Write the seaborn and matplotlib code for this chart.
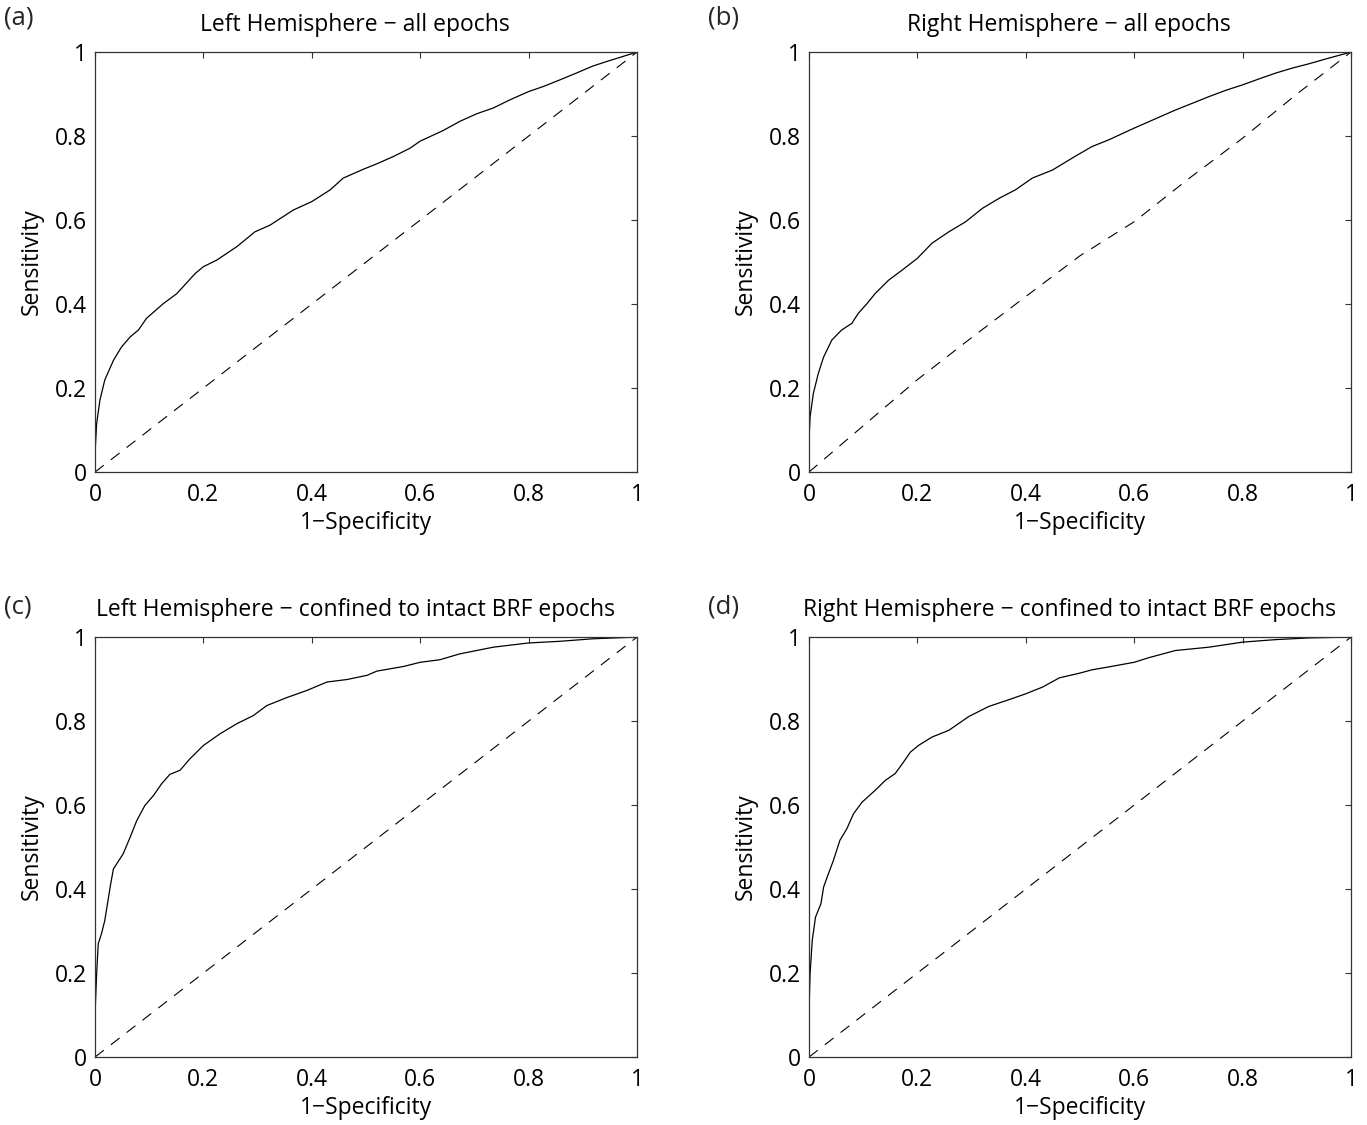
import matplotlib
matplotlib.use("Agg")
import matplotlib.pyplot as plt
import seaborn as sns
import pandas as pd

# ROC curves (1-specificity, sensitivity)
a_fpr = [0, 0.003, 0.009, 0.018, 0.034, 0.049, 0.065, 0.08, 0.095, 0.126, 0.151, 0.185, 0.2,
         0.225, 0.262, 0.295, 0.323, 0.366, 0.4, 0.434, 0.458, 0.495, 0.52, 0.55, 0.581, 0.6,
         0.642, 0.673, 0.704, 0.735, 0.765, 0.8, 0.827, 0.858, 0.888, 0.919, 0.95, 1.0]
a_tpr = [0.044, 0.115, 0.171, 0.219, 0.266, 0.298, 0.322, 0.338, 0.366, 0.401, 0.425, 0.473, 0.489,
         0.505, 0.537, 0.572, 0.588, 0.624, 0.644, 0.672, 0.7, 0.721, 0.734, 0.751, 0.771, 0.788,
         0.813, 0.835, 0.853, 0.867, 0.886, 0.906, 0.918, 0.934, 0.95, 0.967, 0.98, 1.0]

b_fpr = [0, 0.002, 0.008, 0.017, 0.027, 0.042, 0.06, 0.079, 0.091, 0.107, 0.122, 0.147, 0.172,
         0.2, 0.227, 0.258, 0.289, 0.32, 0.351, 0.381, 0.412, 0.449, 0.49, 0.522, 0.553, 0.6,
         0.646, 0.676, 0.707, 0.738, 0.769, 0.8, 0.83, 0.861, 0.892, 0.922, 0.96, 1.0]
b_tpr = [0.076, 0.131, 0.187, 0.234, 0.274, 0.314, 0.338, 0.354, 0.378, 0.401, 0.425, 0.457, 0.481,
         0.509, 0.545, 0.572, 0.596, 0.628, 0.652, 0.672, 0.7, 0.719, 0.751, 0.775, 0.791, 0.819,
         0.845, 0.862, 0.878, 0.894, 0.909, 0.922, 0.936, 0.95, 0.962, 0.972, 0.986, 1.0]

c_fpr = [0, 0.003, 0.006, 0.012, 0.018, 0.025, 0.029, 0.034, 0.052, 0.065, 0.077, 0.092, 0.108,
         0.123, 0.138, 0.157, 0.175, 0.2, 0.231, 0.262, 0.292, 0.317, 0.354, 0.391, 0.428, 0.465,
         0.502, 0.52, 0.569, 0.6, 0.636, 0.673, 0.735, 0.8, 0.858, 0.919, 1.0]
c_tpr = [0.1, 0.198, 0.27, 0.294, 0.325, 0.381, 0.413, 0.448, 0.484, 0.524, 0.563, 0.599, 0.623,
         0.651, 0.673, 0.683, 0.71, 0.742, 0.77, 0.794, 0.813, 0.837, 0.856, 0.873, 0.893, 0.899,
         0.909, 0.919, 0.93, 0.94, 0.946, 0.96, 0.976, 0.986, 0.99, 0.996, 1.0]

d_fpr = [0, 0.002, 0.006, 0.012, 0.022, 0.027, 0.036, 0.045, 0.057, 0.07, 0.082, 0.098, 0.122,
         0.141, 0.159, 0.172, 0.187, 0.202, 0.227, 0.258, 0.295, 0.332, 0.369, 0.4, 0.431, 0.462,
         0.499, 0.522, 0.553, 0.6, 0.627, 0.676, 0.738, 0.8, 0.861, 0.922, 1.0]
d_tpr = [0.11, 0.198, 0.278, 0.333, 0.365, 0.405, 0.437, 0.468, 0.516, 0.544, 0.579, 0.607, 0.635,
         0.659, 0.675, 0.698, 0.726, 0.742, 0.762, 0.778, 0.811, 0.835, 0.851, 0.865, 0.881, 0.903,
         0.914, 0.922, 0.929, 0.94, 0.951, 0.968, 0.976, 0.988, 0.994, 0.998, 1.0]

# chance lines
diag_x = [0, 1]
diag_y = [0, 1]
b_chance_x = [0, 0.1, 0.2, 0.3, 0.4, 0.5, 0.6, 0.7, 0.8, 0.9, 1.0]
b_chance_y = [0, 0.11, 0.22, 0.32, 0.418, 0.515, 0.596, 0.698, 0.795, 0.9, 1.0]

titles = ["Left Hemisphere \u2212 all epochs",
          "Right Hemisphere \u2212 all epochs",
          "Left Hemisphere \u2212 confined to intact BRF epochs",
          "Right Hemisphere \u2212 confined to intact BRF epochs"]
panel_tags = ["(a)", "(b)", "(c)", "(d)"]
tick_vals = [0, 0.2, 0.4, 0.6, 0.8, 1]
tick_labels = ["0", "0.2", "0.4", "0.6", "0.8", "1"]

sns.set_style("white")
plt.rcParams["font.family"] = ["Open Sans", "DejaVu Sans"]
plt.rcParams["xtick.direction"] = "in"
plt.rcParams["ytick.direction"] = "in"

fs = 16.5

fig = plt.figure(figsize=(13.67, 11.25), dpi=100)

curves = [(a_fpr, a_tpr), (b_fpr, b_tpr), (c_fpr, c_tpr), (d_fpr, d_tpr)]
chances = [(diag_x, diag_y), (b_chance_x, b_chance_y), (diag_x, diag_y), (diag_x, diag_y)]
positions = [[0.0695, 0.5804, 0.3965, 0.3733],
             [0.5918, 0.5804, 0.3965, 0.3733],
             [0.0695, 0.0604, 0.3965, 0.3733],
             [0.5918, 0.0604, 0.3965, 0.3733]]
tag_xy = [(0.003, 0.984), (0.518, 0.984), (0.003, 0.46), (0.518, 0.46)]

for i in range(4):
    ax = fig.add_axes(positions[i])
    roc = pd.DataFrame({"fpr": curves[i][0], "tpr": curves[i][1]})
    ch = pd.DataFrame({"fpr": chances[i][0], "tpr": chances[i][1]})
    sns.lineplot(data=roc, x="fpr", y="tpr", ax=ax, color="black", linewidth=0.9,
                 sort=False, estimator=None)
    sns.lineplot(data=ch, x="fpr", y="tpr", ax=ax, color="black", linewidth=0.8,
                 sort=False, estimator=None, linestyle=(0, (10, 8)))
    ax.set_xlim(0, 1)
    ax.set_ylim(0, 1)
    ax.set_xticks(tick_vals)
    ax.set_xticklabels(tick_labels)
    ax.set_yticks(tick_vals)
    ax.set_yticklabels(tick_labels)
    ax.tick_params(axis="both", labelsize=fs, length=4, width=0.8, color="#333333",
                   labelcolor="black", top=True, right=True, pad=6)
    ax.tick_params(axis="x", pad=8)
    for s in ax.spines.values():
        s.set_visible(True)
        s.set_color("#333333")
        s.set_linewidth(0.9)
    ax.set_xlabel("1\u2212Specificity", fontsize=fs, labelpad=3, color="black")
    ax.set_ylabel("Sensitivity", fontsize=fs, labelpad=8, color="black")
    ax.set_title(titles[i], fontsize=fs, pad=15, color="black", x=0.48)
    fig.text(tag_xy[i][0], tag_xy[i][1], panel_tags[i], fontsize=18.5, va="center")

fig.savefig("out.png", dpi=100, facecolor="white")
